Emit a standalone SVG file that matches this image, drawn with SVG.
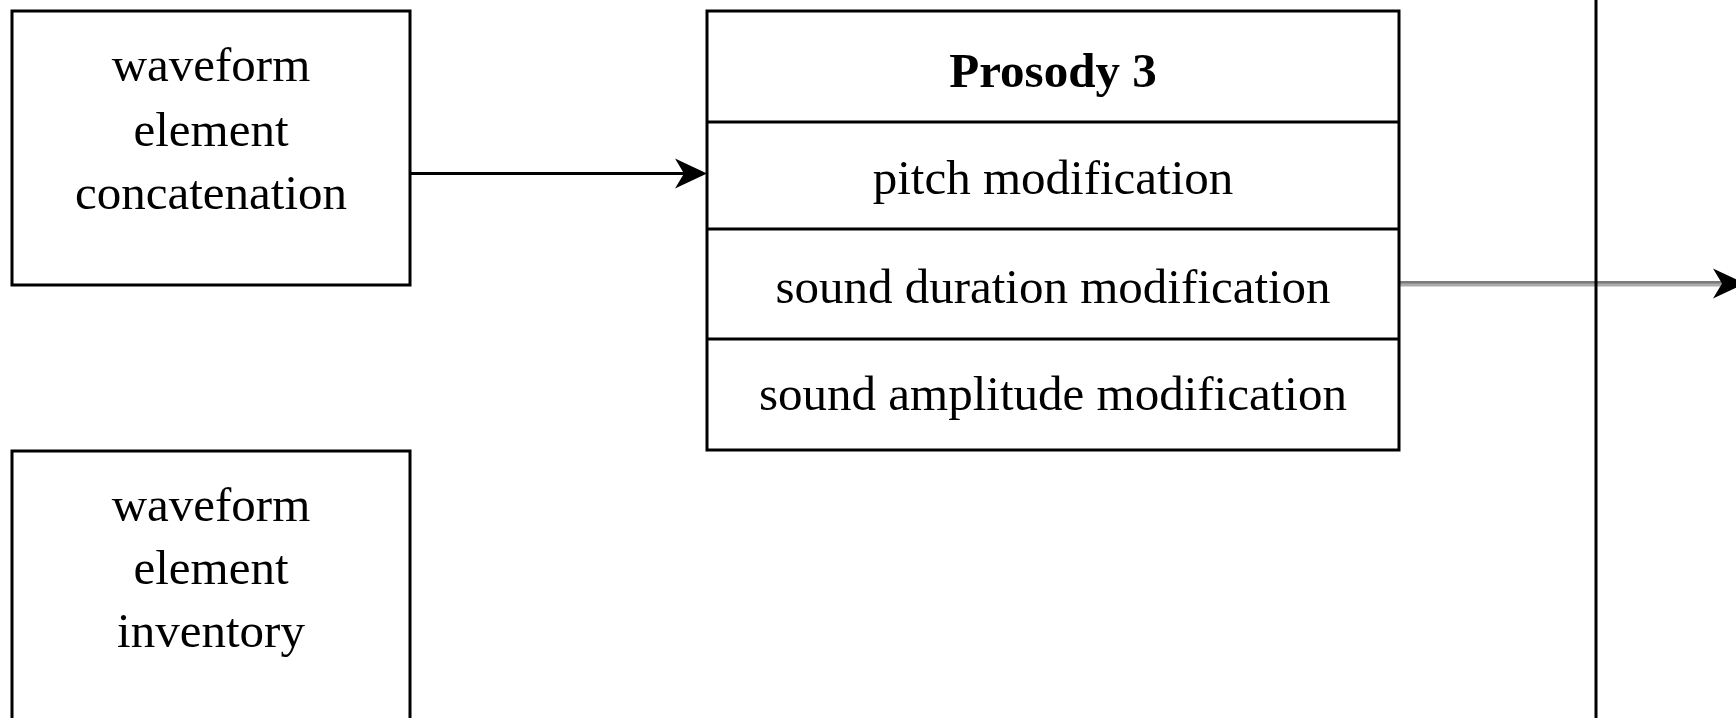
<svg xmlns="http://www.w3.org/2000/svg" width="1736" height="718" viewBox="0 0 1736 718">
  <style>
    .box { fill: #ffffff; stroke: #000000; stroke-width: 3; }
    .lbl { font-family: "Liberation Serif", "Times New Roman", serif; font-size: 49px; fill: #000000; text-anchor: middle; }
    .bold { font-weight: bold; }
    .edge { fill: none; stroke-width: 3; }
  </style>
  <defs>
    <path id="head" d="M0,0 L-32,-15 L-23,0 L-32,15 Z"/>
  </defs>
  <rect width="1736" height="718" fill="#ffffff"/>

  <g id="connectors">
    <line class="edge" x1="410" y1="173.5" x2="700" y2="173.5" stroke="#000000"/>
    <use href="#head" transform="translate(707,173.5)" fill="#000000"/>
    <line class="edge" x1="1399" y1="282.5" x2="1730" y2="282.5" stroke="#7a7a7a" stroke-width="2"/>
    <line class="edge" x1="1399" y1="285" x2="1730" y2="285" stroke="#ababab" stroke-width="2"/>
    <use href="#head" transform="translate(1745,283.5)" fill="#000000"/>
  </g>

  <g id="concatenation">
    <rect class="box" x="12" y="11" width="398" height="274"/>
    <text class="lbl" x="211" y="81">waveform</text>
    <text class="lbl" x="211" y="146">element</text>
    <text class="lbl" x="211" y="209">concatenation</text>
  </g>

  <g id="inventory">
    <rect class="box" x="12" y="451" width="398" height="290"/>
    <text class="lbl" x="211" y="521">waveform</text>
    <text class="lbl" x="211" y="584">element</text>
    <text class="lbl" x="211" y="647">inventory</text>
  </g>

  <g id="prosody">
    <rect class="box" x="707" y="11" width="692" height="439"/>
    <line class="edge" x1="707" y1="122" x2="1399" y2="122" stroke="#000000"/>
    <line class="edge" x1="707" y1="229" x2="1399" y2="229" stroke="#000000"/>
    <line class="edge" x1="707" y1="339" x2="1399" y2="339" stroke="#000000"/>
    <text class="lbl bold" x="1053" y="87">Prosody 3</text>
    <text class="lbl" x="1053" y="194">pitch modification</text>
    <text class="lbl" x="1053" y="303">sound duration modification</text>
    <text class="lbl" x="1053" y="410">sound amplitude modification</text>
  </g>

  <g id="divider">
    <line x1="1596" y1="0" x2="1596" y2="718" stroke="#000000" stroke-width="3"/>
  </g>
</svg>
